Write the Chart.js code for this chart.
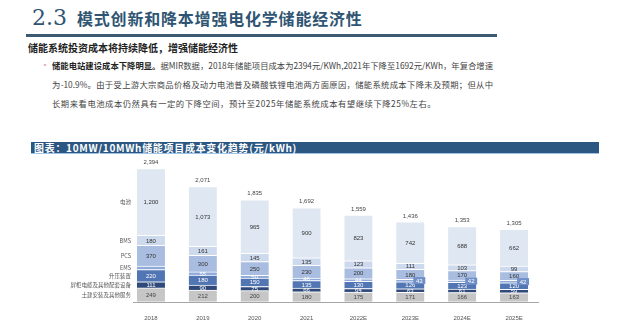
<!DOCTYPE html>
<html lang="zh">
<head>
    <meta charset="UTF-8">
    <title>储能项目成本变化趋势</title>
    <script src="https://cdn.jsdelivr.net/npm/chart.js"></script>
    <style>
        body {
            margin: 0;
            width: 640px;
            height: 332px;
            background: #ffffff;
            position: relative;
            overflow: hidden;
            font-family: "Noto Sans CJK SC", sans-serif;
        }
        .title {
            position: absolute;
            left: 32px;
            top: 5px;
            color: #2f5573;
            white-space: nowrap;
        }
        .title .num {
            font-family: "DejaVu Serif", serif;
            font-weight: 300;
            font-size: 22px;
            margin-right: 10px;
        }
        .title .txt {
            font-size: 16px;
            font-weight: bold;
            letter-spacing: 0.8px;
        }
        .rule {
            position: absolute;
            left: 26px;
            top: 34px;
            width: 471px;
            height: 3px;
            background: #3d5a73;
        }
        .sub {
            position: absolute;
            left: 28px;
            top: 40px;
            font-size: 10px;
            font-weight: bold;
            color: #222;
            white-space: nowrap;
        }
        .dot {
            position: absolute;
            left: 40px;
            top: 57px;
            color: #e8a0b4;
            font-size: 10px;
        }
        .para div {
            position: absolute;
            left: 52px;
            width: 441px;
            font-size: 8.3px;
            color: #444;
            white-space: nowrap;
        }
        .para .j {
            text-align: justify;
            text-align-last: justify;
        }
        .para .l3 { letter-spacing: 0.55px; }
        .para b { color: #222; }
        .header {
            position: absolute;
            left: 31px;
            top: 142px;
            width: 565px;
            height: 11px;
            background: #2c5782;
            border-bottom: 1px solid #9dc3e6;
            color: #fff;
            font-size: 10px;
            font-weight: bold;
            line-height: 11px;
            padding-left: 3px;
            letter-spacing: 0.7px;
            white-space: nowrap;
            box-sizing: content-box;
        }
        .chart-box {
            position: absolute;
            left: 0;
            top: 155px;
            width: 640px;
            height: 177px;
        }
    </style>
</head>
<body>
    <div class="title"><span class="num">2.3</span><span class="txt">模式创新和降本增强电化学储能经济性</span></div>
    <div class="rule"></div>
    <div class="sub">储能系统投资成本将持续降低，增强储能经济性</div>
    <div class="dot">•</div>
    <div class="para">
        <div class="j" style="top:59px"><b>储能电站建设成本下降明显。</b>据MIR数据，2018年储能项目成本为2394元/KWh,2021年下降至1692元/KWh，年复合增速</div>
        <div class="j" style="top:78px">为-10.9%。由于受上游大宗商品价格及动力电池普及磷酸铁锂电池两方面原因，储能系统成本下降未及预期；但从中</div>
        <div class="l3" style="top:97px">长期来看电池成本仍然具有一定的下降空间，预计至2025年储能系统成本有望继续下降25%左右。</div>
    </div>
    <div class="header">图表：10MW/10MWh储能项目成本变化趋势(元/kWh)</div>
    <div class="chart-box"><canvas id="chart"></canvas></div>

    <script>
        // years
        const years = ['2018', '2019', '2020', '2021', '2022E', '2023E', '2024E', '2025E'];

        // cost components, bottom to top (元/kWh)
        const civil = [249, 212, 200, 180, 175, 171, 166, 163];     // 土建安装及其他服务
        const cabinet = [111, 90, 75, 66, 64, 63, 61, 59];          // 屏柜电缆及其他配套设备
        const booster = [220, 180, 150, 135, 130, 126, 123, 120];   // 升压装置
        const ems = [64, 55, 50, 46, 44, 43, 42, 42];               // EMS
        const pcs = [370, 300, 250, 230, 200, 180, 170, 160];       // PCS
        const bms = [180, 161, 145, 135, 123, 111, 103, 99];        // BMS
        const battery = [1200, 1073, 965, 900, 823, 742, 688, 662]; // 电池

        const totals = [2394, 2071, 1835, 1692, 1559, 1436, 1353, 1305];

        const seriesNames = ['土建安装及其他服务', '屏柜电缆及其他配套设备', '升压装置', 'EMS', 'PCS', 'BMS', '电池'];
        const seriesData = [civil, cabinet, booster, ems, pcs, bms, battery];
        const seriesColors = ['#c6c6c6', '#2f4a7a', '#5276b3', '#8eaad8', '#a9bde0', '#cdd9ec', '#dfe7f2'];
        const labelColors = ['#444', '#fff', '#fff', '#fff', '#333', '#333', '#333'];

        const numFont = '"Liberation Sans", sans-serif';

        const fmt = v => v.toLocaleString('en-US');

        // labels inside segments, totals on top, series names on the left, base line
        const decorate = {
            id: 'decorate',
            afterDatasetsDraw(chart) {
                const ctx = chart.ctx;
                const y = chart.scales.y;
                ctx.save();
                ctx.textAlign = 'center';
                ctx.textBaseline = 'middle';
                ctx.font = '6px ' + numFont;

                chart.data.datasets.forEach((ds, di) => {
                    const meta = chart.getDatasetMeta(di);
                    meta.data.forEach((bar, i) => {
                        if (di === 3 && i === 0) return; // EMS 2018 label not shown
                        const cy = (bar.y + bar.base) / 2;
                        let cx = bar.x;
                        if (di === 3 && i >= 5) cx += 9;
                        ctx.fillStyle = labelColors[di];
                        if (di === 3 && i >= 5) {
                            ctx.fillStyle = '#6f8fc9';
                            ctx.fillRect(cx - 6, cy - 3.5, 12, 7);
                            ctx.fillStyle = '#fff';
                        }
                        ctx.fillText(fmt(ds.data[i]), cx, cy + 0.5);
                    });
                });

                // totals
                const top = chart.getDatasetMeta(chart.data.datasets.length - 1);
                ctx.fillStyle = '#444';
                top.data.forEach((bar, i) => {
                    ctx.fillText(fmt(totals[i]), bar.x, bar.y - 6);
                });

                // series names beside the first bar
                const first = chart.getDatasetMeta(0).data[0];
                const nameX = first.x - first.width / 2 - 6;
                ctx.textAlign = 'right';
                ctx.font = '5.5px "Noto Sans CJK SC", sans-serif';
                ctx.fillStyle = '#555';
                let acc = 0;
                seriesData.forEach((arr, si) => {
                    const mid = acc + arr[0] / 2;
                    acc += arr[0];
                    ctx.fillText(seriesNames[si], nameX, y.getPixelForValue(mid));
                });

                // base line
                const last = top.data[top.data.length - 1];
                const by = Math.round(y.getPixelForValue(0)) + 0.5;
                ctx.strokeStyle = '#a6a6a6';
                ctx.lineWidth = 1;
                ctx.beginPath();
                ctx.moveTo(first.x - first.width / 2 - 4, by);
                ctx.lineTo(last.x + last.width / 2 + 11, by);
                ctx.stroke();
                ctx.restore();
            }
        };

        new Chart(document.getElementById('chart'), {
            type: 'bar',
            data: {
                labels: years,
                datasets: seriesData.map((arr, i) => ({
                    label: seriesNames[i],
                    data: arr,
                    backgroundColor: seriesColors[i],
                    borderColor: '#ffffff',
                    borderWidth: { top: 1, bottom: 0, left: 0, right: 0 },
                    borderSkipped: false,
                    barThickness: 28
                }))
            },
            options: {
                responsive: true,
                maintainAspectRatio: false,
                animation: false,
                layout: { padding: { left: 125, right: 100, top: 10, bottom: 5 } },
                plugins: {
                    legend: { display: false },
                    tooltip: { enabled: false }
                },
                scales: {
                    x: {
                        stacked: true,
                        grid: { display: false },
                        border: { display: false },
                        ticks: {
                            padding: 5,
                            color: '#555',
                            font: { size: 6, family: numFont }
                        }
                    },
                    y: {
                        stacked: true,
                        display: false,
                        min: 0,
                        max: 2460
                    }
                }
            },
            plugins: [decorate]
        });
    </script>
</body>
</html>
